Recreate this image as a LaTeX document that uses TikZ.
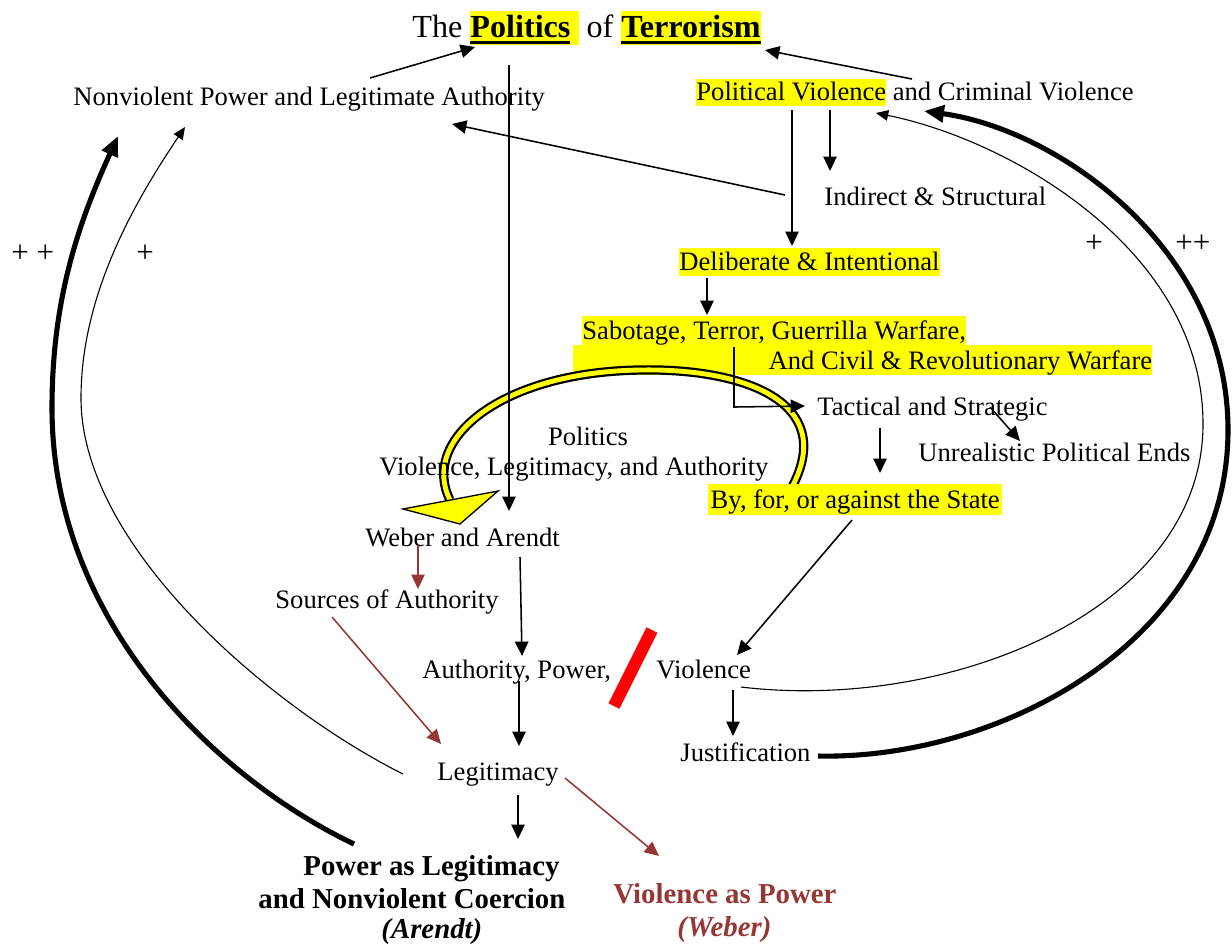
\documentclass[tikz,border=0pt]{standalone}
\usepackage{fontspec}
\setmainfont{Liberation Serif}
\usetikzlibrary{arrows.meta}
\definecolor{hly}{RGB}{255,255,0}
\definecolor{brn}{RGB}{149,55,53}
\newcommand\hlbox[3]{{\setlength{\fboxsep}{0pt}\colorbox{hly}{\rule[-#2]{0pt}{\dimexpr#1+#2\relax}#3}}}
\newcommand\uline[1]{\setbox0\hbox{#1}\rlap{\rule[-3pt]{\wd0}{1.3pt}}\box0}
\begin{document}
\begin{tikzpicture}[x=0.451pt,y=-0.451pt,
  every node/.style={inner sep=0pt, anchor=base west, font=\fontsize{12}{14}\selectfont},
  arr/.style={line width=0.7pt, -{Triangle[length=6.5pt,width=6pt]}},
  brarr/.style={arr, color=brn},
  thinarc/.style={line width=0.5pt, -{Triangle[length=5.5pt,width=4.8pt]}},
  thickarc/.style={line width=2.3pt, -{Triangle[length=9pt,width=7.5pt]}},
  bold13/.style={font=\fontsize{13}{15}\selectfont\bfseries},
  plus/.style={font=\fontsize{14}{16}\selectfont}]
\useasboundingbox (0,0) rectangle (1232,947);

% Sabotage block (under the yellow band)
\node (sab1) at (582,339) {\hlbox{10.4pt}{2.7pt}{Sabotage, Terror, Guerrilla Warfare,}};
\node (sab2) at (573,369) {\hlbox{10.8pt}{1.8pt}{\hspace{88pt}And Civil \& Revolutionary Warfare}};

% yellow curved block arrow
\draw[line width=4.2pt, black] (792,487) .. controls (838,400) and (740,368) .. (640,370) .. controls (500,372) and (420,440) .. (450,500);
\draw[line width=2.2pt, hly] (792,487) .. controls (838,400) and (740,368) .. (640,370) .. controls (500,372) and (420,440) .. (450,500);
\draw[fill=hly, line width=0.6pt, line join=miter] (403,509) -- (498,491) -- (460,524) -- cycle;

% title and texts
\node (title) at (412,37) {\fontsize{14.5}{16}\selectfont The \hlbox{11.6pt}{3.6pt}{\uline{\textbf{Politics}}\ } of \hlbox{11.6pt}{3.6pt}{\uline{\textbf{Terrorism}}}};
\node (nonv) at (73,105) {Nonviolent Power and Legitimate Authority};
\node (pv) at (696,100) {\hlbox{9.5pt}{2.7pt}{Political Violence} and Criminal Violence};
\node (ind) at (824,205) {Indirect \& Structural};
\node (del) at (679,270) {\hlbox{9.9pt}{2.7pt}{Deliberate \& Intentional}};
\node (tac) at (817,415) {Tactical and Strategic};
\node (unr) at (918,461) {Unrealistic Political Ends};
\node (by) at (708,508) {\hlbox{10.8pt}{3.2pt}{\kern1pt By, for, or against the State\kern1pt}};
\node[anchor=base] (pol) at (588,445) {Politics};
\node (vla) at (379,475) {Violence, Legitimacy, and Authority};
\node (wa) at (365,546) {Weber and Arendt};
\node (soa) at (275,608) {Sources of Authority};
\node (ap) at (422,678) {Authority, Power,};
\node (vio) at (656,678) {Violence};
\node (jus) at (680,761) {Justification};
\node (leg) at (437,780) {Legitimacy};
\node[bold13] (pal1) at (303,875) {Power as Legitimacy};
\node[bold13] (pal2) at (258,908) {and Nonviolent Coercion};
\node[bold13] (pal3) at (381,938) {\itshape(Arendt)};
\node[bold13, text=brn] (vap1) at (613,903) {Violence as Power};
\node[bold13, text=brn] (vap2) at (677,936) {\itshape(Weber)};
\node[plus] (pl1) at (11,262) {+ +};
\node[plus] (pl2) at (136,262) {+};
\node[plus] (pl3) at (1085,252) {+};
\node[plus] (pl4) at (1175,252) {++};

% coordinates for connector ends
\coordinate (a1s) at (370,78);  \coordinate (a1e) at (475,47);
\coordinate (a2s) at (912,79);  \coordinate (a2e) at (765,50);
\coordinate (a3s) at (509,65);  \coordinate (a3e) at (509,511);
\coordinate (a4s) at (792,110); \coordinate (a4e) at (792,246);
\coordinate (a5s) at (830,110); \coordinate (a5e) at (830,171);
\coordinate (a6s) at (785,195); \coordinate (a6e) at (452,124);
\coordinate (a7s) at (707,278); \coordinate (a7e) at (707,315);
\coordinate (a8s) at (734,347); \coordinate (a8m) at (734,407); \coordinate (a8e) at (805,406);
\coordinate (a9s) at (990,407); \coordinate (a9e) at (1020,441);
\coordinate (a10s) at (880,428); \coordinate (a10e) at (880,473);
\coordinate (a11s) at (852,520); \coordinate (a11e) at (737,655);
\coordinate (a12s) at (418,545); \coordinate (a12e) at (418,589);
\coordinate (a13s) at (520,557); \coordinate (a13e) at (522,656);
\coordinate (a14s) at (332,617); \coordinate (a14e) at (441,744);
\coordinate (a15s) at (519,681); \coordinate (a15e) at (519,746);
\coordinate (a16s) at (733,690); \coordinate (a16e) at (733,736);
\coordinate (a17s) at (518,795); \coordinate (a17e) at (518,839);
\coordinate (a18s) at (565,778); \coordinate (a18e) at (659,856);
\coordinate (rt1s) at (741,687); \coordinate (rt1e) at (876,113);
\coordinate (rt2s) at (818,756); \coordinate (rt2e) at (924,111);
\coordinate (lt1s) at (403,774); \coordinate (lt1e) at (185,127);
\coordinate (lt2s) at (354,844); \coordinate (lt2e) at (118,136);
\coordinate (barA) at (652,630); \coordinate (barB) at (614,706);

% straight connectors
\draw[arr] (a1s) -- (a1e);
\draw[arr] (a2s) -- (a2e);
\draw[arr] (a3s) -- (a3e);
\draw[arr] (a4s) -- (a4e);
\draw[arr] (a5s) -- (a5e);
\draw[arr] (a6s) -- (a6e);
\draw[arr] (a7s) -- (a7e);
\draw[arr] (a8s) -- (a8m) -- (a8e);
\draw[arr] (a9s) -- (a9e);
\draw[arr] (a10s) -- (a10e);
\draw[arr] (a11s) -- (a11e);
\draw[brarr] (a12s) -- (a12e);
\draw[arr] (a13s) -- (a13e);
\draw[brarr] (a14s) -- (a14e);
\draw[arr] (a15s) -- (a15e);
\draw[arr] (a16s) -- (a16e);
\draw[arr] (a17s) -- (a17e);
\draw[brarr] (a18s) -- (a18e);

% red bar
\draw[red, line width=5.5pt] (barA) -- (barB);

% right feedback arcs
\draw[thinarc] (rt1s) .. controls (950,712) and (1203,610) .. (1203,424) .. controls (1203,250) and (1010,140) .. (rt1e);
\draw[thickarc] (rt2s) .. controls (1000,760) and (1228,640) .. (1228,430) .. controls (1228,250) and (1060,130) .. (rt2e);

% left feedback arcs
\draw[thinarc] (lt1s) .. controls (273,709) and (81,548) .. (81,398) .. controls (81,298) and (131,207) .. (lt1e);
\draw[thickarc] (lt2s) .. controls (214,777) and (52,620) .. (52,408) .. controls (52,300) and (78,224) .. (lt2e);
\end{tikzpicture}
\end{document}
